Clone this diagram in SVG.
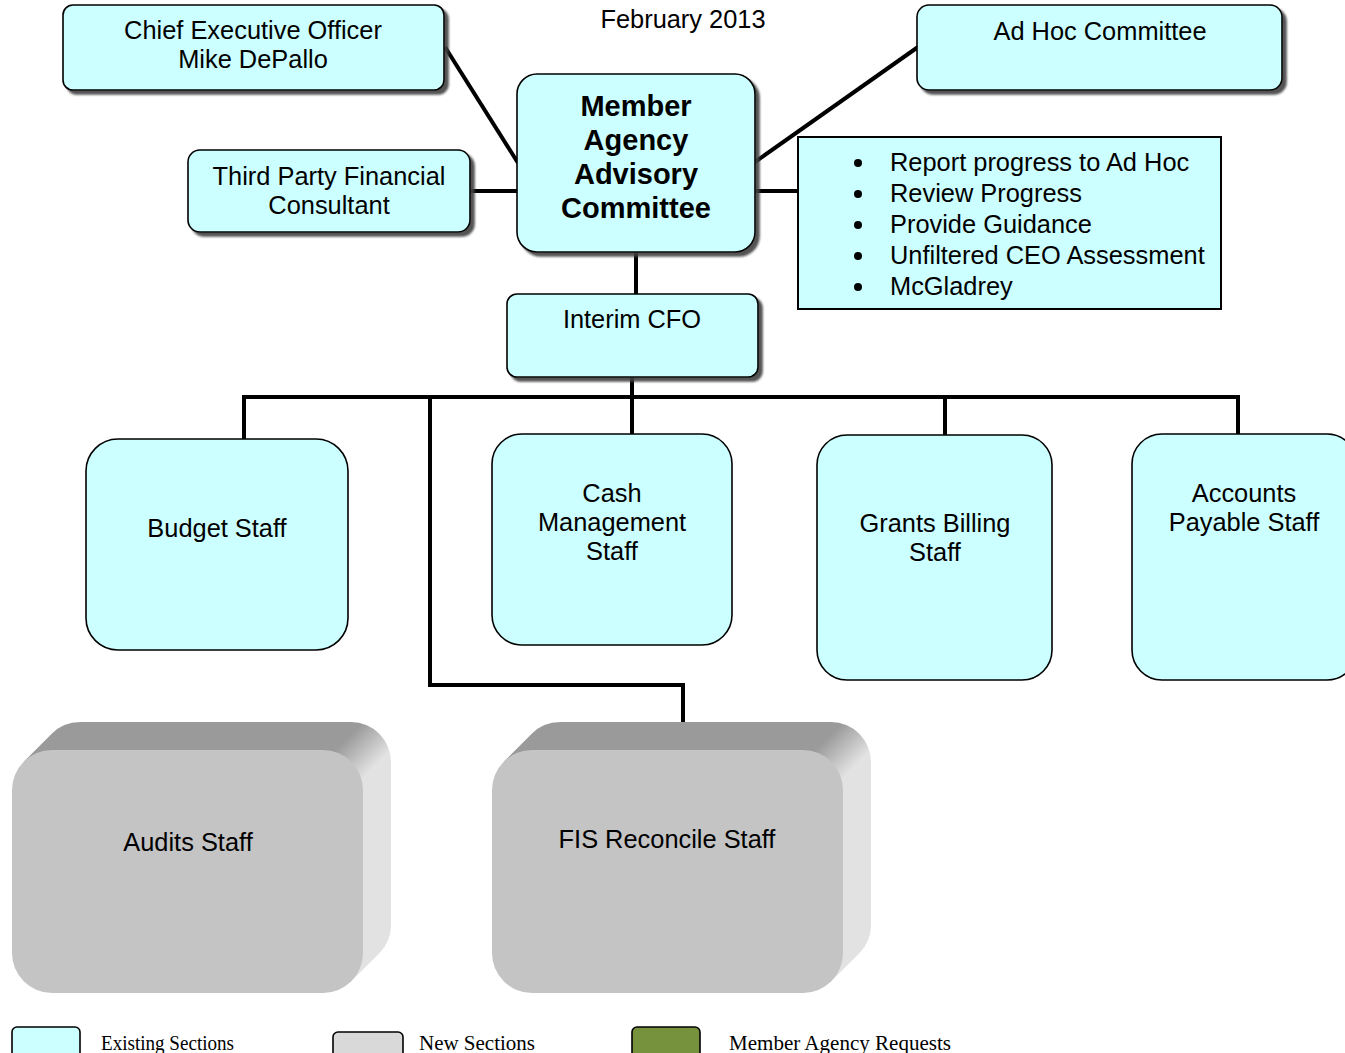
<svg xmlns="http://www.w3.org/2000/svg" width="1345" height="1053" viewBox="0 0 1345 1053">
<style>
.box{fill:#ccffff;stroke:#000;stroke-width:1.6}
.sh{filter:url(#ds)}
.t{font-family:"Liberation Sans",Arial,sans-serif;font-size:25.4px;fill:#000;text-anchor:middle}
.b{font-weight:bold;font-size:29px}
.bl{font-family:"Liberation Sans",Arial,sans-serif;font-size:25.4px;fill:#000}
.conn{stroke:#000;stroke-width:4;fill:none}
.front{fill:#c4c4c4}
.leg{font-family:"Liberation Serif","Times New Roman",serif;font-size:20px;fill:#000}
.lbox{stroke:#000;stroke-width:1.6}
</style>
<defs>
<filter id="ds" x="-10%" y="-10%" width="130%" height="130%">
<feDropShadow dx="4" dy="4" stdDeviation="0.8" flood-color="#404040" flood-opacity="0.9"/>
</filter>
<linearGradient id="gA" gradientUnits="userSpaceOnUse" x1="309" y1="776" x2="337" y2="804">
<stop offset="0" stop-color="#9a9a9a"/><stop offset="1" stop-color="#e2e2e2"/>
</linearGradient>
<linearGradient id="gF" gradientUnits="userSpaceOnUse" x1="789" y1="776" x2="817" y2="804">
<stop offset="0" stop-color="#9a9a9a"/><stop offset="1" stop-color="#e2e2e2"/>
</linearGradient>
</defs>
<rect width="1345" height="1053" fill="#fff"/>

<text class="t" x="683" y="28">February 2013</text>

<g id="connectors">
<line class="conn" x1="445" y1="47" x2="518" y2="163"/>
<line class="conn" x1="471" y1="191" x2="518" y2="191"/>
<line class="conn" x1="755" y1="162" x2="918" y2="47"/>
<line class="conn" x1="755" y1="191" x2="798" y2="191"/>
<line class="conn" x1="636" y1="252" x2="636" y2="294"/>
<line class="conn" x1="632" y1="377" x2="632" y2="434"/>
<polyline class="conn" points="244,439 244,397 1238,397 1238,434"/>
<line class="conn" x1="945" y1="397" x2="945" y2="435"/>
<polyline class="conn" points="430,397 430,685 683,685 683,724"/>
</g>

<g id="ceo">
<rect class="box sh" x="63" y="5" width="381" height="85" rx="10"/>
<text class="t" x="253" y="39">Chief Executive Officer</text>
<text class="t" x="253" y="68">Mike DePallo</text>
</g>

<g id="member">
<rect class="box sh" x="517" y="74" width="238" height="178" rx="20"/>
<text class="t b" x="636" y="116">Member</text>
<text class="t b" x="636" y="150">Agency</text>
<text class="t b" x="636" y="184">Advisory</text>
<text class="t b" x="636" y="218">Committee</text>
</g>

<g id="thirdparty">
<rect class="box sh" x="188" y="150" width="282" height="82" rx="12"/>
<text class="t" x="329" y="185">Third Party Financial</text>
<text class="t" x="329" y="214">Consultant</text>
</g>

<g id="adhoc">
<rect class="box sh" x="917" y="5" width="365" height="85" rx="12"/>
<text class="t" x="1100" y="40">Ad Hoc Committee</text>
</g>

<g id="tasks">
<rect x="798" y="137" width="423" height="172" fill="#ccffff" stroke="#000" stroke-width="2"/>
<circle cx="858" cy="163" r="4"/>
<circle cx="858" cy="194" r="4"/>
<circle cx="858" cy="225" r="4"/>
<circle cx="858" cy="256" r="4"/>
<circle cx="858" cy="287" r="4"/>
<text class="bl" x="890" y="171">Report progress to Ad Hoc</text>
<text class="bl" x="890" y="202">Review Progress</text>
<text class="bl" x="890" y="233">Provide Guidance</text>
<text class="bl" x="890" y="264">Unfiltered CEO Assessment</text>
<text class="bl" x="890" y="295">McGladrey</text>
</g>

<g id="cfo">
<rect class="box sh" x="507" y="294" width="251" height="83" rx="10"/>
<text class="t" x="632" y="328">Interim CFO</text>
</g>

<g id="budget">
<rect class="box" x="86" y="439" width="262" height="211" rx="32"/>
<text class="t" x="217" y="537">Budget Staff</text>
</g>

<g id="cash">
<rect class="box" x="492" y="434" width="240" height="211" rx="30"/>
<text class="t" x="612" y="502">Cash</text>
<text class="t" x="612" y="531">Management</text>
<text class="t" x="612" y="560">Staff</text>
</g>

<g id="grants">
<rect class="box" x="817" y="435" width="235" height="245" rx="30"/>
<text class="t" x="935" y="532">Grants Billing</text>
<text class="t" x="935" y="561">Staff</text>
</g>

<g id="ap">
<rect class="box" x="1132" y="434" width="225" height="246" rx="30"/>
<text class="t" x="1244" y="502">Accounts</text>
<text class="t" x="1244" y="531">Payable Staff</text>
</g>

<g id="audits">
<path fill="url(#gA)" d="M23.72,761.72 L51.72,733.72 A40,40 0 0 1 80,722 L351,722 A40,40 0 0 1 391,762 L391,925 A40,40 0 0 1 379.28,953.28 L351.28,981.28 Z"/>
<rect class="front" x="12" y="750" width="351" height="243" rx="40"/>
<text class="t" x="188" y="851">Audits Staff</text>
</g>

<g id="fis">
<path fill="url(#gF)" d="M503.72,761.72 L531.72,733.72 A40,40 0 0 1 560,722 L831,722 A40,40 0 0 1 871,762 L871,925 A40,40 0 0 1 859.28,953.28 L831.28,981.28 Z"/>
<rect class="front" x="492" y="750" width="351" height="243" rx="40"/>
<text class="t" x="667" y="848">FIS Reconcile Staff</text>
</g>

<g id="legend">
<rect class="lbox" x="12" y="1027" width="68" height="40" rx="5" fill="#ccffff"/>
<text class="leg" x="101" y="1050" textLength="133" lengthAdjust="spacingAndGlyphs">Existing Sections</text>
<rect class="lbox" x="333" y="1032" width="70" height="40" rx="5" fill="#d9d9d9"/>
<text class="leg" x="419" y="1050" textLength="116" lengthAdjust="spacingAndGlyphs">New Sections</text>
<rect class="lbox" x="632" y="1027" width="68" height="40" rx="5" fill="#76923c"/>
<text class="leg" x="729" y="1050" textLength="222" lengthAdjust="spacingAndGlyphs">Member Agency Requests</text>
</g>
</svg>
